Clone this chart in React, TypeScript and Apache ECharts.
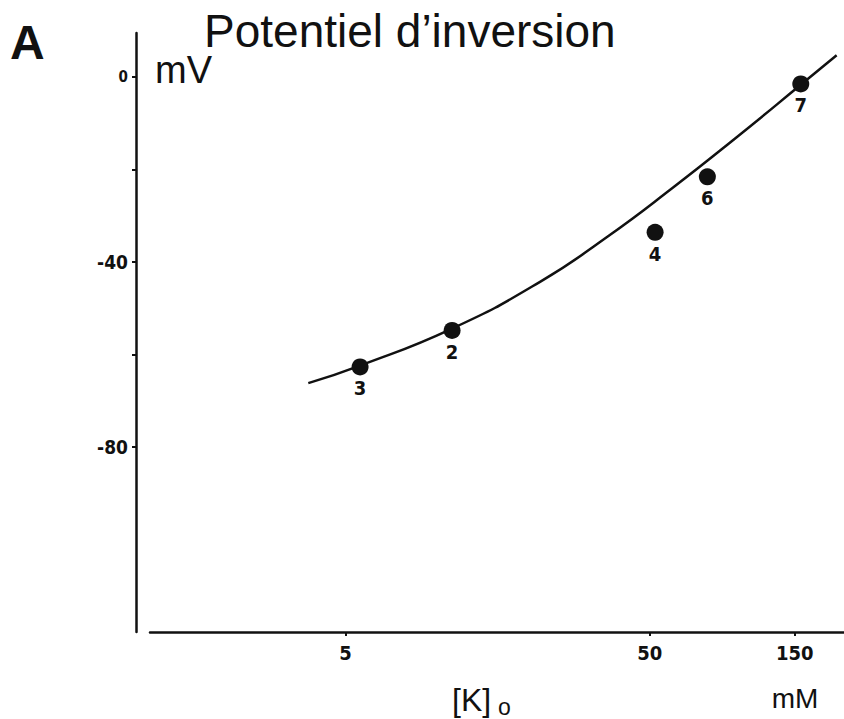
import React, { useEffect, useRef } from "react";
import * as echarts from "echarts";

// Fitted reversal-potential curve, [K]o in mM vs potential in mV
const curveK = [3.77, 5.58, 11.2, 21.8, 36.2, 59.7, 95.5, 157, 206];
const curveV = [-66.2, -62.4, -54.4, -44.3, -34.6, -23.9, -13.3, -1.7, 4.7];

// Measured points and their solution numbers
const pointK = [5.58, 11.2, 52.1, 77.4, 157];
const pointV = [-62.7, -54.8, -33.6, -21.6, -1.5];
const pointLabels = ["3", "2", "4", "6", "7"];

// Axis ticks
const xTickValues = [5, 50, 150];
const yTickValues = [0, -20, -40, -60, -80];
const yLabelValues = [0, -40, -80];

const INK = "#111";
const SANS = '"Liberation Sans", Arial, Helvetica, sans-serif';
const NARROW = '"DejaVu Sans Condensed", "Liberation Sans Narrow", "DejaVu Sans", sans-serif';

export default function App() {
  const ref = useRef<HTMLDivElement>(null);

  useEffect(() => {
    if (!ref.current) return;
    const chart = echarts.init(ref.current, null, { renderer: "svg" });

    const option = {
      animation: false,
      backgroundColor: "#fff",
      grid: { left: 150, right: 0, top: 33, bottom: 87 },
      xAxis: {
        type: "log",
        min: 1.137,
        max: 217.8,
        axisLine: { show: true, onZero: false, lineStyle: { color: INK, width: 2.5 } },
        axisTick: {
          show: true,
          customValues: xTickValues,
          length: 4,
          lineStyle: { color: INK, width: 2 },
        },
        axisLabel: {
          show: true,
          customValues: xTickValues,
          margin: 11,
          color: INK,
          fontSize: 20,
          fontWeight: "bold",
          fontFamily: NARROW,
        },
        splitLine: { show: false },
        minorTick: { show: false },
      },
      yAxis: {
        type: "value",
        min: -120,
        max: 9.5,
        offset: 14,
        axisLine: { show: true, onZero: false, lineStyle: { color: INK, width: 2.5 } },
        axisTick: {
          show: true,
          customValues: yTickValues,
          length: 4,
          lineStyle: { color: INK, width: 2 },
        },
        axisLabel: {
          show: true,
          customValues: yLabelValues,
          margin: 8,
          color: INK,
          fontWeight: "bold",
          fontFamily: NARROW,
          formatter: (v: number) => (v === 0 ? "{s|0}" : "{b|" + v + "}"),
          rich: {
            s: { fontSize: 15, fontWeight: "bold", fontFamily: NARROW, color: INK },
            b: { fontSize: 19, fontWeight: "bold", fontFamily: NARROW, color: INK },
          },
        },
        splitLine: { show: false },
      },
      series: [
        {
          type: "line",
          data: curveK.map((k, i) => [k, curveV[i]]),
          smooth: 0.5,
          showSymbol: false,
          lineStyle: { color: INK, width: 2.5 },
          z: 2,
        },
        {
          type: "scatter",
          data: pointK.map((k, i) => ({ value: [k, pointV[i]], name: pointLabels[i] })),
          symbol: "circle",
          symbolSize: 17,
          itemStyle: { color: INK, opacity: 1 },
          label: {
            show: true,
            position: "bottom",
            distance: 3,
            formatter: (p: any) => p.name,
            color: INK,
            fontSize: 20,
            fontWeight: "bold",
            fontFamily: NARROW,
          },
          z: 3,
        },
      ],
      graphic: [
        {
          type: "text",
          x: 10,
          y: 42,
          style: {
            text: "A",
            font: "bold 48px " + SANS,
            fill: INK,
            textAlign: "left",
            textVerticalAlign: "middle",
          },
        },
        {
          type: "text",
          x: 204,
          y: 31,
          style: {
            text: "Potentiel d\u2019inversion",
            font: "46px " + SANS,
            fill: INK,
            textAlign: "left",
            textVerticalAlign: "middle",
          },
        },
        {
          type: "text",
          x: 155,
          y: 70,
          style: {
            text: "mV",
            font: "38px " + SANS,
            fill: INK,
            textAlign: "left",
            textVerticalAlign: "middle",
          },
        },
        {
          type: "text",
          x: 452,
          y: 700,
          style: {
            text: "[K]",
            font: "32px " + SANS,
            fill: INK,
            textAlign: "left",
            textVerticalAlign: "middle",
          },
        },
        {
          type: "text",
          x: 498,
          y: 707,
          style: {
            text: "o",
            font: "23px " + SANS,
            fill: INK,
            textAlign: "left",
            textVerticalAlign: "middle",
          },
        },
        {
          type: "text",
          x: 795,
          y: 698,
          style: {
            text: "mM",
            font: "28px " + SANS,
            fill: INK,
            textAlign: "center",
            textVerticalAlign: "middle",
          },
        },
      ],
    };

    chart.setOption(option as any);
    return () => chart.dispose();
  }, []);

  return (
    <div
      ref={ref}
      style={{ position: "fixed", left: 0, top: 0, width: 844, height: 719, background: "#fff" }}
    />
  );
}
